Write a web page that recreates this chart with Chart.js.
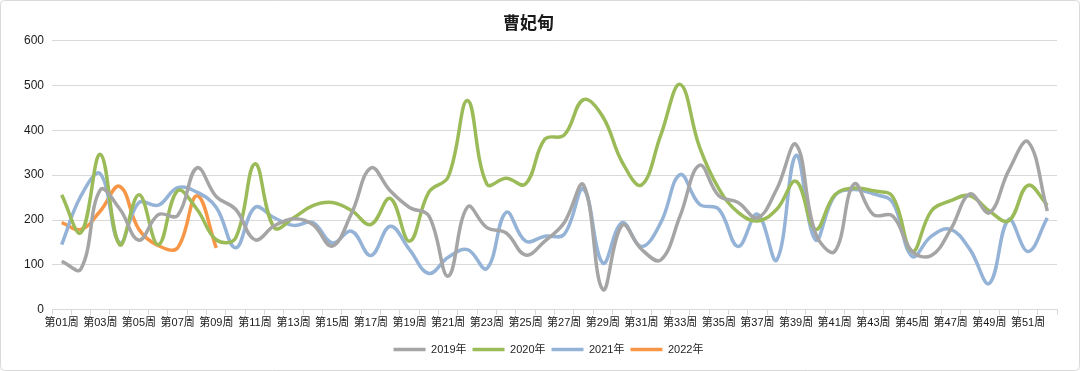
<!DOCTYPE html>
<html>
<head>
<meta charset="utf-8">
<script src="https://cdn.jsdelivr.net/npm/chart.js@4/dist/chart.umd.min.js"></script>
<style>
  html, body { margin: 0; padding: 0; background: #ffffff; }
  #wrap { position: relative; width: 1080px; height: 371px; }
  canvas { display: block; }
</style>
</head>
<body>
<div id="wrap"><canvas id="c" width="1080" height="371"></canvas></div>
<script>
const chartTitle = "曹妃甸";
const weeks = [];
for (let i = 1; i <= 52; i++) weeks.push("第" + String(i).padStart(2, "0") + "周");

const seriesNames = ["2019年", "2020年", "2021年", "2022年"];

const values2019 = [108, 91, 267, 225, 155, 212, 210, 316, 252, 224, 156, 187, 203, 190, 142, 215, 316, 265, 228, 209,
  75, 229, 183, 171, 122, 153, 194, 278, 45, 188, 135, 111, 209, 322, 254, 239, 205, 269, 368, 171,
  130, 280, 212, 209, 130, 121, 179, 258, 216, 310, 374, 220];

const values2020 = [256, 172, 346, 145, 256, 145, 265, 224, 156, 160, 325, 183, 205, 232, 239, 221, 190, 248, 153, 262,
  296, 466, 280, 293, 280, 380, 389, 468, 430, 329, 278, 389, 502, 363, 270, 217, 198, 224, 286, 179,
  256, 271, 265, 252, 130, 220, 243, 254, 220, 198, 277, 233];

const values2021 = [145, 254, 303, 149, 239, 233, 272, 262, 228, 138, 228, 205, 188, 194, 149, 175, 121, 186, 134, 81,
  117, 134, 92, 217, 153, 164, 168, 269, 104, 194, 141, 194, 301, 235, 224, 141, 213, 111, 344, 156,
  254, 268, 258, 239, 119, 164, 179, 134, 59, 201, 130, 205];

const values2022 = [194, 179, 220, 275, 179, 143, 138, 254, 138];

const yTicks = [0, 100, 200, 300, 400, 500, 600];

const colors = ["#A5A5A5", "#9BBB59", "#95B3D7", "#F79646"];
const allValues = [values2019, values2020, values2021, values2022];

const framePlugin = {
  id: "frame",
  beforeDraw(chart) {
    const lg = chart.legend;
    if (lg && !lg._shifted) {
      lg.left += 20; lg.right += 20;
      if (lg.legendHitBoxes) lg.legendHitBoxes.forEach(b => { b.left += 20; });
      lg._shifted = true;
    }
  },
  afterDraw(chart) {
    const ctx = chart.ctx;
    ctx.save();
    ctx.strokeStyle = "#d9d9d9";
    ctx.lineWidth = 1;
    const r = 4;
    const x = 0.5, y = 0.5, w = chart.width - 1, h = chart.height - 1;
    ctx.beginPath();
    ctx.moveTo(x + r, y);
    ctx.arcTo(x + w, y, x + w, y + h, r);
    ctx.arcTo(x + w, y + h, x, y + h, r);
    ctx.arcTo(x, y + h, x, y, r);
    ctx.arcTo(x, y, x + w, y, r);
    ctx.closePath();
    ctx.stroke();
    ctx.restore();
  }
};

const fontFam = "'Liberation Sans', 'Noto Sans CJK SC', sans-serif";

new Chart(document.getElementById("c"), {
  type: "line",
  data: {
    labels: weeks,
    datasets: seriesNames.map((name, i) => ({
      label: name,
      data: allValues[i],
      borderColor: colors[i],
      backgroundColor: colors[i],
      borderWidth: 3.5,
      pointRadius: 0,
      pointHoverRadius: 0,
      tension: 0.4,
      fill: false
    }))
  },
  options: {
    responsive: false,
    animation: false,
    devicePixelRatio: 1,
    layout: { padding: { top: 0, right: 23, bottom: 6, left: 0 } },
    plugins: {
      title: {
        display: true,
        text: chartTitle,
        color: "#1a1a1a",
        font: { family: "'Noto Sans CJK SC', sans-serif", size: 17, weight: "bold" },
        padding: { top: 12, bottom: 8 }
      },
      legend: {
        position: "bottom",
        labels: {
          usePointStyle: true,
          pointStyle: "line",
          pointStyleWidth: 32,
          padding: 6,
          color: "#262626",
          font: { family: fontFam, size: 11 }
        }
      },
      tooltip: { enabled: false }
    },
    scales: {
      x: {
        offset: true,
        afterFit(scale) { scale.height += 6; },
        grid: { display: true, drawOnChartArea: false, drawTicks: true, tickLength: 5, offset: true, color: "#d9d9d9" },
        border: { display: true, color: "#d9d9d9" },
        ticks: {
          autoSkip: false,
          maxRotation: 0,
          minRotation: 0,
          padding: 2,
          color: "#1a1a1a",
          font: { family: fontFam, size: 11 },
          callback: function (v, idx) { return idx % 2 === 0 ? weeks[idx] : ""; }
        }
      },
      y: {
        min: 0,
        max: 600,
        afterBuildTicks(scale) { scale.ticks = yTicks.map(v => ({ value: v })); },
        afterFit(scale) { scale.width = 52; },
        grid: { color: "#d9d9d9", drawTicks: false },
        border: { display: false },
        ticks: {
          padding: 8,
          color: "#1a1a1a",
          font: { family: fontFam, size: 12 }
        }
      }
    }
  },
  plugins: [framePlugin]
});
</script>
</body>
</html>
